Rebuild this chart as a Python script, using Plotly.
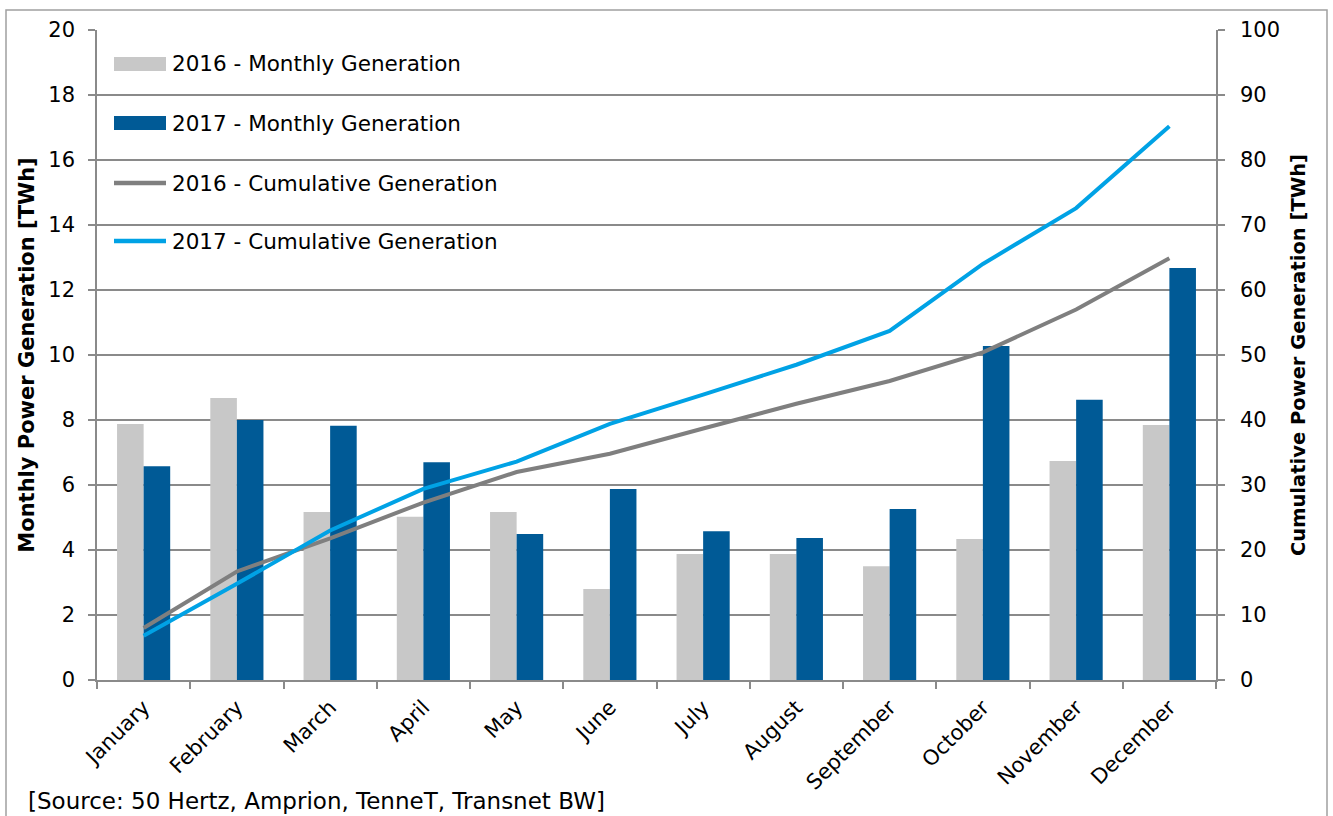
import plotly.graph_objects as go

months = ["January", "February", "March", "April", "May", "June", "July",
          "August", "September", "October", "November", "December"]
monthly_2016 = [7.88, 8.68, 5.17, 5.02, 5.17, 2.80, 3.88, 3.88, 3.50, 4.34, 6.74, 7.85]
monthly_2017 = [6.58, 8.00, 7.82, 6.70, 4.49, 5.88, 4.58, 4.37, 5.26, 10.28, 8.62, 12.68]
cumulative_2016 = [8.0, 16.7, 21.8, 27.3, 32.0, 34.8, 38.7, 42.5, 46.0, 50.4, 57.0, 64.9]
cumulative_2017 = [6.8, 14.8, 23.0, 29.4, 33.6, 39.4, 43.9, 48.5, 53.7, 64.0, 72.6, 85.2]
legend_labels = ["2016 - Monthly Generation", "2017 - Monthly Generation",
                 "2016 - Cumulative Generation", "2017 - Cumulative Generation"]

C_GRAY_BAR = "#C8C8C8"
C_BLUE_BAR = "#005A96"
C_GRAY_LINE = "#7F7F7F"
C_BLUE_LINE = "#00A2E5"
GRID = "#8A8A8A"
FONT = "DejaVu Sans"

W, H = 1333, 816
L, R, T, B = 97, 1216, 30, 680


def px(x):
    return (x - L) / (R - L)


def py(y):
    return (B - y) / (B - T)


fig = go.Figure()
fig.add_trace(go.Bar(x=months, y=monthly_2016, name=legend_labels[0],
                     marker=dict(color=C_GRAY_BAR, line=dict(width=0))))
fig.add_trace(go.Bar(x=months, y=monthly_2017, name=legend_labels[1],
                     marker=dict(color=C_BLUE_BAR, line=dict(width=0))))
fig.add_trace(go.Scatter(x=months, y=cumulative_2016, name=legend_labels[2], yaxis="y2",
                         mode="lines", line=dict(color=C_GRAY_LINE, width=4)))
fig.add_trace(go.Scatter(x=months, y=cumulative_2017, name=legend_labels[3], yaxis="y2",
                         mode="lines", line=dict(color=C_BLUE_LINE, width=4)))

shapes = []
annotations = []

# custom legend
rows = [64, 123, 183, 241]
styles = [("rect", C_GRAY_BAR), ("rect", C_BLUE_BAR), ("line", C_GRAY_LINE), ("line", C_BLUE_LINE)]
for yc, (kind, col), lab in zip(rows, styles, legend_labels):
    if kind == "rect":
        shapes.append(dict(type="rect", xref="paper", yref="paper",
                           x0=px(114), x1=px(166), y0=py(yc + 7), y1=py(yc - 7),
                           fillcolor=col, line=dict(width=0), layer="above"))
    else:
        shapes.append(dict(type="line", xref="paper", yref="paper",
                           x0=px(114), x1=px(166), y0=py(yc), y1=py(yc),
                           line=dict(color=col, width=4.5), layer="above"))
    annotations.append(dict(text=lab, xref="paper", yref="paper", x=px(170), y=py(yc),
                            xanchor="left", yanchor="middle", showarrow=False,
                            font=dict(family=FONT, size=21.5, color="#000")))

# outer frame
shapes.append(dict(type="rect", xref="paper", yref="paper",
                   x0=px(6), x1=px(1327), y0=py(830), y1=py(10),
                   line=dict(color="#A0A0A0", width=1.5), fillcolor="rgba(0,0,0,0)",
                   layer="below"))

annotations.append(dict(text="[Source: 50 Hertz, Amprion, TenneT, Transnet BW]",
                        xref="paper", yref="paper", x=px(26), y=py(801),
                        xanchor="left", yanchor="middle", showarrow=False,
                        font=dict(family=FONT, size=23, color="#000")))

fig.update_layout(
    width=W, height=H,
    margin=dict(l=L, r=W - R, t=T, b=H - B, pad=0),
    paper_bgcolor="white", plot_bgcolor="white",
    barmode="group", bargap=0.43, bargroupgap=0,
    showlegend=False,
    font=dict(family=FONT, color="#000"),
    xaxis=dict(type="category", showline=True, linecolor=GRID, linewidth=1.5,
               ticks="outside", tickson="boundaries", ticklen=7, tickcolor=GRID,
               tickwidth=1.5, tickangle=-45, tickfont=dict(size=21, family=FONT),
               ticklabelstandoff=5, showgrid=False),
    yaxis=dict(range=[0, 20], dtick=2, showline=True, linecolor=GRID, linewidth=1.5,
               ticks="outside", ticklen=7, tickcolor=GRID, tickwidth=1.5,
               gridcolor=GRID, gridwidth=1.5, zeroline=False,
               tickfont=dict(size=21, family=FONT), ticklabelstandoff=9,
               title=dict(text="<b>Monthly Power Generation [TWh]</b>",
                          font=dict(size=21, family=FONT), standoff=8)),
    yaxis2=dict(range=[0, 100], dtick=10, overlaying="y", side="right",
                showline=True, linecolor=GRID, linewidth=1.5,
                ticks="outside", ticklen=7, tickcolor=GRID, tickwidth=1.5,
                showgrid=False, zeroline=False,
                tickfont=dict(size=21, family=FONT), ticklabelstandoff=11,
                title=dict(text="<b>Cumulative Power Generation [TWh]</b>",
                           font=dict(size=19.5, family=FONT), standoff=12)),
    shapes=shapes,
    annotations=annotations,
)

fig.write_html("out.html", config={"displayModeBar": False},
               post_script="document.body.style.margin='0';document.body.style.overflow='hidden';")
